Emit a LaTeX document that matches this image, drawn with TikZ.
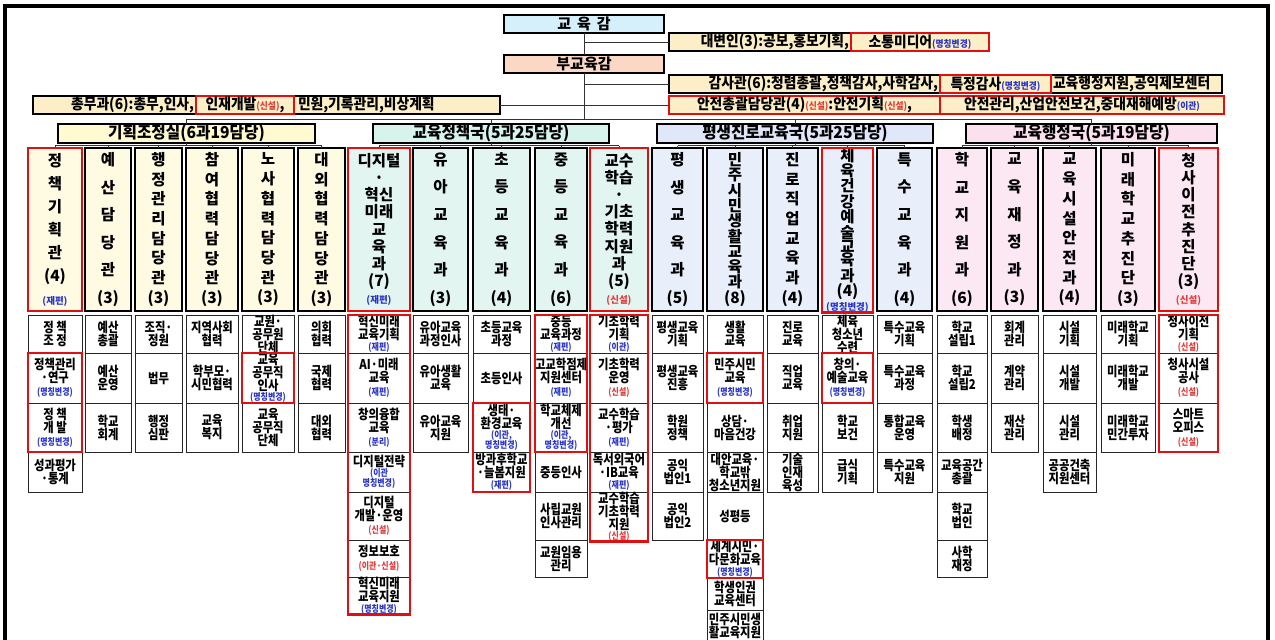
\documentclass[tikz,border=0pt]{standalone}
\usepackage{fontspec}
\setmainfont{Noto Sans CJK KR}
\newfontfamily\krn[FakeStretch=0.84]{Noto Sans CJK KR}
\newfontfamily\krt[FakeStretch=0.92]{Noto Sans CJK KR}
\newfontfamily\krh[FakeStretch=0.95]{Noto Sans CJK KR}
\definecolor{cSup}{HTML}{D5F0FB}
\definecolor{cDep}{HTML}{FBD8C6}
\definecolor{cRow}{HTML}{FCEFC7}
\definecolor{cK}{HTML}{FFFAD2}
\definecolor{cKc}{HTML}{FFFBE3}
\definecolor{cP}{HTML}{D6F3EC}
\definecolor{cPc}{HTML}{E2F5F1}
\definecolor{cL}{HTML}{DFE7F8}
\definecolor{cLc}{HTML}{E8EEFA}
\definecolor{cA}{HTML}{FBE0EE}
\definecolor{cAc}{HTML}{FCE8F2}
\definecolor{cTagB}{HTML}{2A35C8}
\definecolor{cTagR}{HTML}{E23B3B}
\definecolor{cRed}{HTML}{E01010}
\newcommand\tagB[1]{{\fontsize{9.5}{10}\selectfont\color{cTagB}#1}}
\newcommand\tagR[1]{{\fontsize{9.5}{10}\selectfont\color{cTagR}#1}}
\tikzset{
  topbox/.style={draw=black, line width=1.1pt, anchor=north west, minimum height=18},
  rowbox/.style={draw=black, line width=1.1pt, fill=cRow, anchor=north west, minimum height=18},
  toptxt/.style={font=\krt\bfseries\fontsize{15}{16}\selectfont},
  redn/.style={draw=cRed, line width=2.6pt, fill=cRow, anchor=north west, minimum height=18, font=\krt\bfseries\fontsize{15}{16}\selectfont},
  redb/.style={draw=cRed, line width=2.6pt},
  bureau/.style={draw=black, line width=1.3pt, anchor=north west, minimum height=19, font=\krh\bfseries\fontsize{16.5}{17}\selectfont},
  colhead/.style={draw=black, line width=1.2pt, minimum height=163, align=center, anchor=north west},
  cell/.style={draw=black!85, line width=0.8pt, fill=white, align=center, anchor=north west, font=\krn\bfseries\fontsize{13.5}{13}\selectfont},
  conn/.style={draw=black!80, line width=0.8pt}
}
\newcommand\colH[6]{\node[colhead, fill=#4, minimum width={#3-#2}, font={\bfseries\fontsize{15.5}{#5}\selectfont}] (#1) at (#2,148) {#6};}
\newcommand\cellcol[4]{\foreach \ya/\yb/\tx [count=\i] in {#4} {\node[cell, minimum width={#3-#2}, minimum height={\yb-\ya}] (#1-\i) at (#2,\ya) {\tx};}}
\begin{document}
\begin{tikzpicture}[x=1pt,y=-1pt, every node/.style={inner sep=0pt, outer sep=0pt}]
\useasboundingbox (0,0) rectangle (1275,640);
\clip (0,0) rectangle (1275,640);
\fill[white] (0,0) rectangle (1275,640);
\draw[line width=3.5pt] (5,6) rectangle (1268,680);

% ---- top ----
\node[topbox, fill=cSup, minimum width=160, font=\bfseries\fontsize{15}{16}\selectfont] (sup) at (504,15) {교\hspace{6pt}육\hspace{6pt}감};
\node[topbox, fill=cDep, minimum width=160, font=\bfseries\fontsize{15}{16}\selectfont] (dep) at (504,55) {부교육감};

\node[rowbox, minimum width=320] (spk) at (669,33) {};
\node[toptxt, anchor=east] (spkA) at (849,42) {대변인(3):공보,홍보기획,};
\node[redn, minimum width=138] (spkB) at (851,33) {소통미디어\tagB{(명칭변경)}};

\node[rowbox, minimum width=553] (aud) at (669,75) {};
\node[toptxt, anchor=east] (audA) at (938,84) {감사관(6):청렴총괄,정책감사,사학감사,};
\node[redn, minimum width=111] (audB) at (940,75) {특정감사\tagB{(명칭변경)}};
\node[toptxt, anchor=west] (audC) at (1053,84) {교육행정지원,공익제보센터};

\node[redn, minimum width=271] (saf) at (669,96) {안전총괄담당관(4)\tagR{(신설)}:안전기획\tagR{(신설)},};
\node[redn, minimum width=284] (safB) at (940,96) {안전관리,산업안전보건,중대재해예방\tagB{(이관)}};

\node[rowbox, minimum width=467] (gen) at (33,96) {};
\node[toptxt, anchor=east] (genA) at (194,105) {총무과(6):총무,인사,};
\node[redn, minimum width=98] (genB) at (196,96) {인재개발\tagR{(신설)},};
\node[toptxt, anchor=west] (genC) at (298,105) {민원,기록관리,비상계획};

% ---- bureau headers ----
\node[bureau, fill=cK, minimum width=257] (kh) at (58,124) {기획조정실(6과19담당)};
\node[bureau, fill=cP, minimum width=236] (ph) at (373,124) {교육정책국(5과25담당)};
\node[bureau, fill=cL, minimum width=276] (lh) at (657,124) {평생진로교육국(5과25담당)};
\node[bureau, fill=cA, minimum width=251] (ah) at (966,124) {교육행정국(5과19담당)};

% ---- spine connectors ----
\coordinate (bb) at (584,119);
\draw[conn] (sup.south) -- (dep.north);
\draw[conn] (dep.south) -- (dep.south |- bb);
\draw[conn] (sup.south |- spk.west) -- (spk.west);
\draw[conn] (sup.south |- aud.west) -- (aud.west);
\draw[conn] (sup.south |- saf.west) -- (saf.west);
\draw[conn] (gen.east) -- (sup.south |- gen.east);
\draw[conn] (kh.north) -- (kh.north |- bb) -- (ah.north |- bb) -- (ah.north);
\draw[conn] (ph.north) -- (ph.north |- bb);
\draw[conn] (lh.north) -- (lh.north |- bb);

% ---- column headers ----
\colH{k1}{28}{82}{cKc}{23}{정\\책\\기\\획\\관\\(4)\\\tagB{(재편)}}
\colH{k2}{85}{131}{cKc}{27.6}{예\\산\\담\\당\\관\\(3)}
\colH{k3}{135}{182}{cKc}{19.7}{행\\정\\관\\리\\담\\당\\관\\(3)}
\colH{k4}{186}{238}{cKc}{19.7}{참\\여\\협\\력\\담\\당\\관\\(3)}
\colH{k5}{242}{294}{cKc}{19.7}{노\\사\\협\\력\\담\\당\\관\\(3)}
\colH{k6}{298}{345}{cKc}{19.7}{대\\외\\협\\력\\담\\당\\관\\(3)}
\colH{p1}{348}{410}{cPc}{17.2}{디지털\\·\\혁신\\미래\\교\\육\\과\\(7)\\\tagB{(재편)}}
\colH{p2}{413}{468}{cPc}{27.6}{유\\아\\교\\육\\과\\(3)}
\colH{p3}{473}{530}{cPc}{27.6}{초\\등\\교\\육\\과\\(4)}
\colH{p4}{535}{587}{cPc}{27.6}{중\\등\\교\\육\\과\\(6)}
\colH{p5}{590}{648}{cPc}{17.2}{교수\\학습\\·\\기초\\학력\\지원\\과\\(5)\\\tagR{(신설)}}
\colH{l1}{652}{703}{cLc}{27.6}{평\\생\\교\\육\\과\\(5)}
\colH{l2}{707}{763}{cLc}{15.3}{민\\주\\시\\민\\생\\활\\교\\육\\과\\(8)}
\colH{l3}{767}{818}{cLc}{19.7}{진\\로\\직\\업\\교\\육\\과\\(4)}
\colH{l4}{822}{873}{cLc}{13.8}{체\\육\\건\\강\\예\\술\\교\\육\\과\\(4)\\\tagB{(명칭변경)}}
\colH{l5}{877}{932}{cLc}{27.6}{특\\수\\교\\육\\과\\(4)}
\colH{a1}{937}{987}{cAc}{27.6}{학\\교\\지\\원\\과\\(6)}
\colH{a2}{991}{1038}{cAc}{27.6}{교\\육\\재\\정\\과\\(3)}
\colH{a3}{1043}{1096}{cAc}{19.7}{교\\육\\시\\설\\안\\전\\과\\(4)}
\colH{a4}{1101}{1155}{cAc}{19.7}{미\\래\\학\\교\\추\\진\\단\\(3)}
\colH{a5}{1159}{1218}{cAc}{17.2}{청\\사\\이\\전\\추\\진\\단\\(3)\\\tagR{(신설)}}

% ---- header to column ticks ----
\coordinate (tb) at (0,145.5);
\foreach \h/\f/\l/\cs in {kh/k1/k6/{k1,k2,k3,k4,k5,k6}, ph/p1/p5/{p1,p2,p3,p4,p5}, lh/l1/l5/{l1,l2,l3,l4,l5}, ah/a1/a5/{a1,a2,a3,a4,a5}} {
  \draw[conn] (\f.north |- tb) -- (\l.north |- tb);
  \draw[conn] (\h.south) -- (\h.south |- tb);
  \foreach \n in \cs {\draw[conn] (\n.north) -- (\n.north |- tb);}
}

% ---- cells ----
\cellcol{k1c}{28}{82}{315/353/{정 책\\조 정}, 353/403/{정책관리\\·연구\\\tagB{(명칭변경)}}, 403/452/{정 책\\개 발\\\tagB{(명칭변경)}}, 452/492/{성과평가\\·통계}}
\cellcol{k2c}{85}{131}{315/353/{예산\\총괄}, 353/403/{예산\\운영}, 403/452/{학교\\회계}}
\cellcol{k3c}{135}{182}{315/353/{조직·\\정원}, 353/403/{법무}, 403/452/{행정\\심판}}
\cellcol{k4c}{186}{238}{315/353/{지역사회\\협력}, 353/403/{학부모·\\시민협력}, 403/452/{교육\\복지}}
\cellcol{k5c}{242}{294}{315/353/{교원·\\공무원\\단체}, 353/403/{교육\\공무직\\인사\\[-3pt]\tagB{(명칭변경)}}, 403/452/{교육\\공무직\\단체}}
\cellcol{k6c}{298}{345}{315/353/{의회\\협력}, 353/403/{국제\\협력}, 403/452/{대외\\협력}}

\cellcol{p1c}{348}{410}{315/353/{혁신미래\\교육기획\\[-2pt]\tagB{(재편)}}, 353/403/{AI·미래\\교육\\\tagB{(재편)}}, 403/452/{창의융합\\교육\\\tagB{(분리)}}, 452/492/{디지털전략\\[-3pt]\tagB{(이관}\\[-3pt]\tagB{명칭변경)}}, 492/540/{디지털\\개발·운영\\\tagR{(신설)}}, 540/577/{정보보호\\\tagR{(이관·신설)}}, 577/613/{혁신미래\\교육지원\\[-2pt]\tagB{(명칭변경)}}}
\cellcol{p2c}{413}{468}{315/353/{유아교육\\과정인사}, 353/403/{유아생활\\교육}, 403/452/{유아교육\\지원}}
\cellcol{p3c}{473}{530}{315/353/{초등교육\\과정}, 353/403/{초등인사}, 403/452/{생태·\\환경교육\\[-3pt]\tagB{(이관,}\\[-3pt]\tagB{명칭변경)}}, 452/492/{방과후학교\\·늘봄지원\\[-2pt]\tagB{(재편)}}}
\cellcol{p4c}{535}{587}{315/353/{중등\\교육과정\\[-2pt]\tagB{(재편)}}, 353/403/{고교학점제\\지원센터\\\tagB{(재편)}}, 403/452/{학교체제\\개선\\[-3pt]\tagB{(이관,}\\[-3pt]\tagB{명칭변경)}}, 452/492/{중등인사}, 492/540/{사립교원\\인사관리}, 540/577/{교원임용\\관리}}
\cellcol{p5c}{590}{648}{315/353/{기초학력\\기획\\[-2pt]\tagB{(이관)}}, 353/403/{기초학력\\운영\\\tagR{(신설)}}, 403/452/{교수학습\\·평가\\\tagB{(재편)}}, 452/492/{독서외국어\\·IB교육\\[-2pt]\tagB{(재편)}}, 492/540/{교수학습\\기초학력\\지원\\[-3pt]\tagR{(신설)}}}

\cellcol{l1c}{652}{703}{315/353/{평생교육\\기획}, 353/403/{평생교육\\진흥}, 403/452/{학원\\정책}, 452/492/{공익\\법인1}, 492/540/{공익\\법인2}}
\cellcol{l2c}{707}{763}{315/353/{생활\\교육}, 353/403/{민주시민\\교육\\\tagB{(명칭변경)}}, 403/452/{상담·\\마음건강}, 452/492/{대안교육·\\학교밖\\청소년지원}, 492/540/{성평등}, 540/578/{세계시민·\\다문화교육\\[-2pt]\tagB{(명칭변경)}}, 578/610/{학생인권\\교육센터}, 610/642/{민주시민생\\활교육지원}}
\cellcol{l3c}{767}{818}{315/353/{진로\\교육}, 353/403/{직업\\교육}, 403/452/{취업\\지원}, 452/492/{기술\\인재\\육성}}
\cellcol{l4c}{822}{873}{315/353/{체육\\청소년\\수련}, 353/403/{창의·\\예술교육\\\tagB{(명칭변경)}}, 403/452/{학교\\보건}, 452/492/{급식\\기획}}
\cellcol{l5c}{877}{932}{315/353/{특수교육\\기획}, 353/403/{특수교육\\과정}, 403/452/{통합교육\\운영}, 452/492/{특수교육\\지원}}

\cellcol{a1c}{937}{987}{315/353/{학교\\설립1}, 353/403/{학교\\설립2}, 403/452/{학생\\배정}, 452/492/{교육공간\\총괄}, 492/540/{학교\\법인}, 540/577/{사학\\재정}}
\cellcol{a2c}{991}{1038}{315/353/{회계\\관리}, 353/403/{계약\\관리}, 403/452/{재산\\관리}}
\cellcol{a3c}{1043}{1096}{315/353/{시설\\기획}, 353/403/{시설\\개발}, 403/452/{시설\\관리}, 452/492/{공공건축\\지원센터}}
\cellcol{a4c}{1101}{1155}{315/353/{미래학교\\기획}, 353/403/{미래학교\\개발}, 403/452/{미래학교\\민간투자}}
\cellcol{a5c}{1159}{1218}{315/353/{청사이전\\기획\\[-2pt]\tagR{(신설)}}, 353/403/{청사시설\\공사\\\tagR{(신설)}}, 403/452/{스마트\\오피스\\\tagR{(신설)}}}

% ---- red highlight frames ----
\foreach \n in {k1,p1,p5,l4,a5} {\draw[redb] (\n.north west) rectangle (\n.south east);}
\draw[redb] (k1c-2.north west) rectangle (k1c-3.south east);
\draw[redb] (k5c-2.north west) rectangle (k5c-2.south east);
\draw[redb] (p1c-1.north west) rectangle (p1c-7.south east);
\draw[redb] (p3c-3.north west) rectangle (p3c-4.south east);
\draw[redb] (p4c-1.north west) rectangle (p4c-3.south east);
\draw[redb] (p5c-1.north west) rectangle (p5c-5.south east);
\draw[redb] (l2c-2.north west) rectangle (l2c-2.south east);
\draw[redb] (l2c-6.north west) rectangle (l2c-6.south east);
\draw[redb] (l4c-2.north west) rectangle (l4c-2.south east);
\draw[redb] (a5c-1.north west) rectangle (a5c-3.south east);
\end{tikzpicture}
\end{document}
